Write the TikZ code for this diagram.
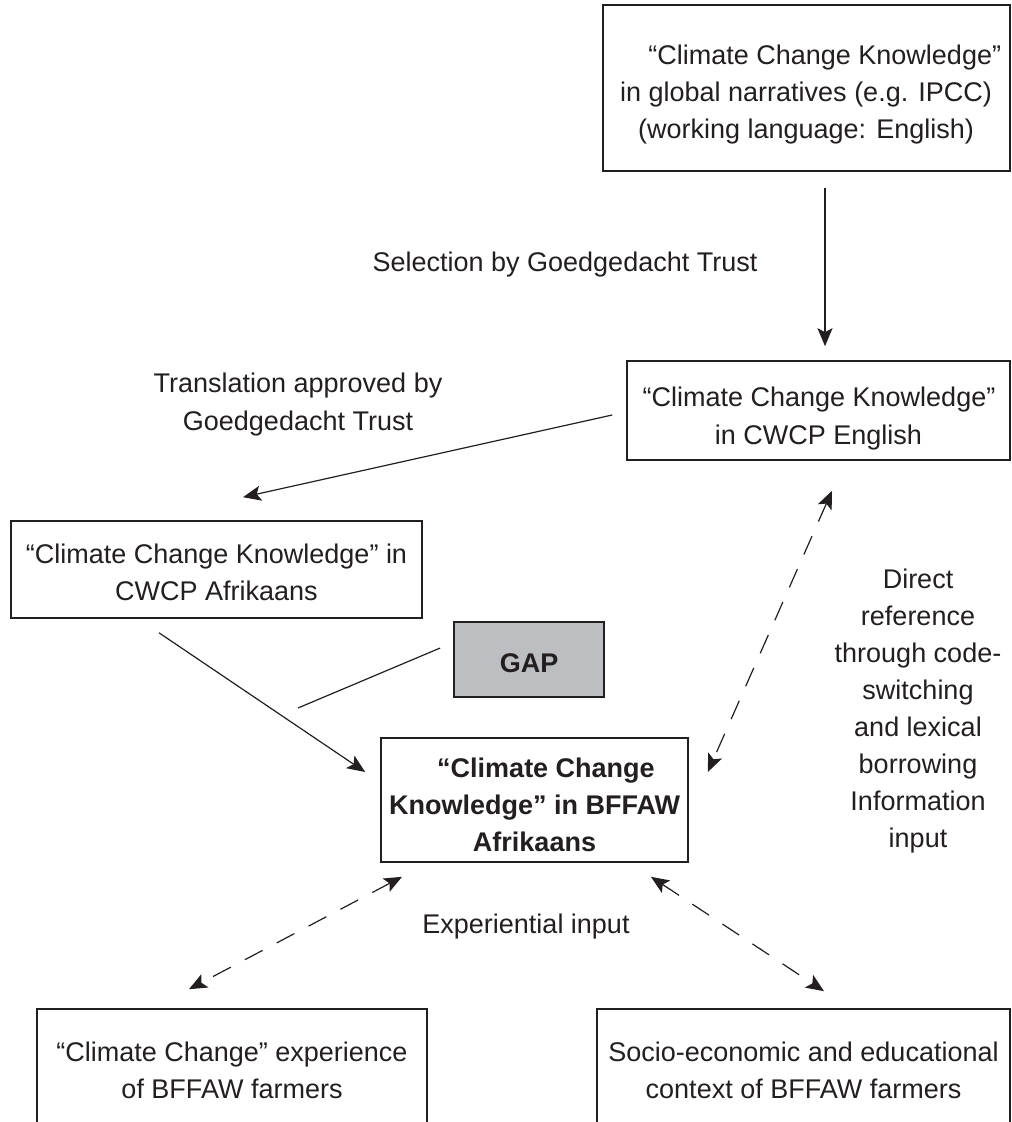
\documentclass[tikz,border=0pt]{standalone}
\usepackage{fontspec}
\setmainfont{Liberation Sans}
\usetikzlibrary{arrows.meta,fit,calc}
\definecolor{ink}{HTML}{231F20}
\definecolor{gapgray}{RGB}{189,190,193}
\begin{document}
\begin{tikzpicture}[x=0.5pt,y=-0.5pt,
  every node/.style={font=\fontsize{13.5}{16}\selectfont, text=ink},
  box/.style={draw=ink, line width=0.8pt, inner sep=0pt, fill=white},
  ln/.style={anchor=base, inner sep=0pt},
  bln/.style={ln, font=\fontsize{13.5}{16}\selectfont\bfseries},
  tip/.style={Stealth[length=9pt,width=7.5pt,inset=2pt]},
  arr/.style={draw=ink, line width=0.6pt, -{Stealth[length=9pt,width=7.5pt,inset=2pt]}},
  dbl/.style={draw=ink, line width=0.6pt, dash pattern=on 10pt off 8pt,
              {Stealth[length=9pt,width=7.5pt,inset=2pt]}-{Stealth[length=9pt,width=7.5pt,inset=2pt]}},
  plain/.style={draw=ink, line width=0.6pt}]
\useasboundingbox (0,0) rectangle (1011,1122);
\clip (0,0) rectangle (1011,1122);
\fill[white] (0,0) rectangle (1011,1122);

% boxes
\node[box, fit={(603,5) (1010,171)}] (b1) {};
\node[box, fit={(627,361) (1010,460)}] (b2) {};
\node[box, fit={(11,521) (422,618)}] (b3) {};
\node[box, fill=gapgray, fit={(454,622) (604,697)}] (gap) {};
\node[box, fit={(381,738) (688,862)}] (b4) {};
\node[box, fit={(37,1009) (427,1140)}] (b5) {};
\node[box, fit={(597,1009) (1010,1140)}] (b6) {};

% box texts
\node[ln] (t1a) at (821,65)  {\ “Climate Change Knowledge”};
\node[ln] (t1b) at (806,102) {in global narratives (e.g. IPCC)};
\node[ln] (t1c) at (806,139) {(working language: English)};

\node[ln] (t2a) at (819,407) {“Climate Change Knowledge”};
\node[ln] (t2b) at (818.5,444) {in CWCP English};

\node[ln] (t3a) at (216.5,563) {“Climate Change Knowledge” in};
\node[ln] (t3b) at (216.5,600) {CWCP Afrikaans};

\node[bln] (tgap) at (529,672) {GAP};

\node[bln] (t4a) at (546,777) {“Climate Change};
\node[bln] (t4b) at (534.5,814) {Knowledge” in BFFAW};
\node[bln] (t4c) at (534.5,851) {Afrikaans};

\node[ln] (t5a) at (232,1061) {“Climate Change” experience};
\node[ln] (t5b) at (232,1098) {of BFFAW farmers};

\node[ln] (t6a) at (803.5,1061) {Socio-economic and educational};
\node[ln] (t6b) at (803.5,1098) {context of BFFAW farmers};

% connector labels
\node[ln] (lsel) at (565,272) {Selection by Goedgedacht Trust};
\node[ln] (ltr1) at (298,393) {Translation approved by};
\node[ln] (ltr2) at (298,430) {Goedgedacht Trust};
\node[ln] (lexp) at (526,933) {Experiential input};
\node[ln] (ld1) at (918,588) {Direct};
\node[ln] (ld2) at (918,625) {reference};
\node[ln] (ld3) at (918,662) {through code-};
\node[ln] (ld4) at (918,699) {switching};
\node[ln] (ld5) at (918,736) {and lexical};
\node[ln] (ld6) at (918,773) {borrowing};
\node[ln] (ld7) at (918,810) {Information};
\node[ln] (ld8) at (918,847) {input};

% connectors
\draw[arr] ($(b1.south)+(18.5,16)$) -- ($(b2.north)+(6.5,-14)$);
\draw[arr] ($(b2.west)+(-14,4.5)$) -- ($(b3.north)+(26.5,-23)$);
\draw[arr] ($(b3.south)+(-57.5,14)$) -- ($(b4.west)+(-15,-28)$);
\coordinate (gapend) at (298,708);
\draw[plain] ($(gap.west)+(-13,-11.5)$) -- (gapend);
\draw[dbl] ($(b2.south)+(13.5,30)$) -- ($(b4.east)+(19,-28)$);
\draw[dbl] ($(b4.south)+(-132.5,14)$) -- ($(b5.north)+(-43,-19)$);
\draw[dbl] ($(b4.south)+(116.5,14)$) -- ($(b6.north)+(20.5,-17)$);
\end{tikzpicture}
\end{document}
